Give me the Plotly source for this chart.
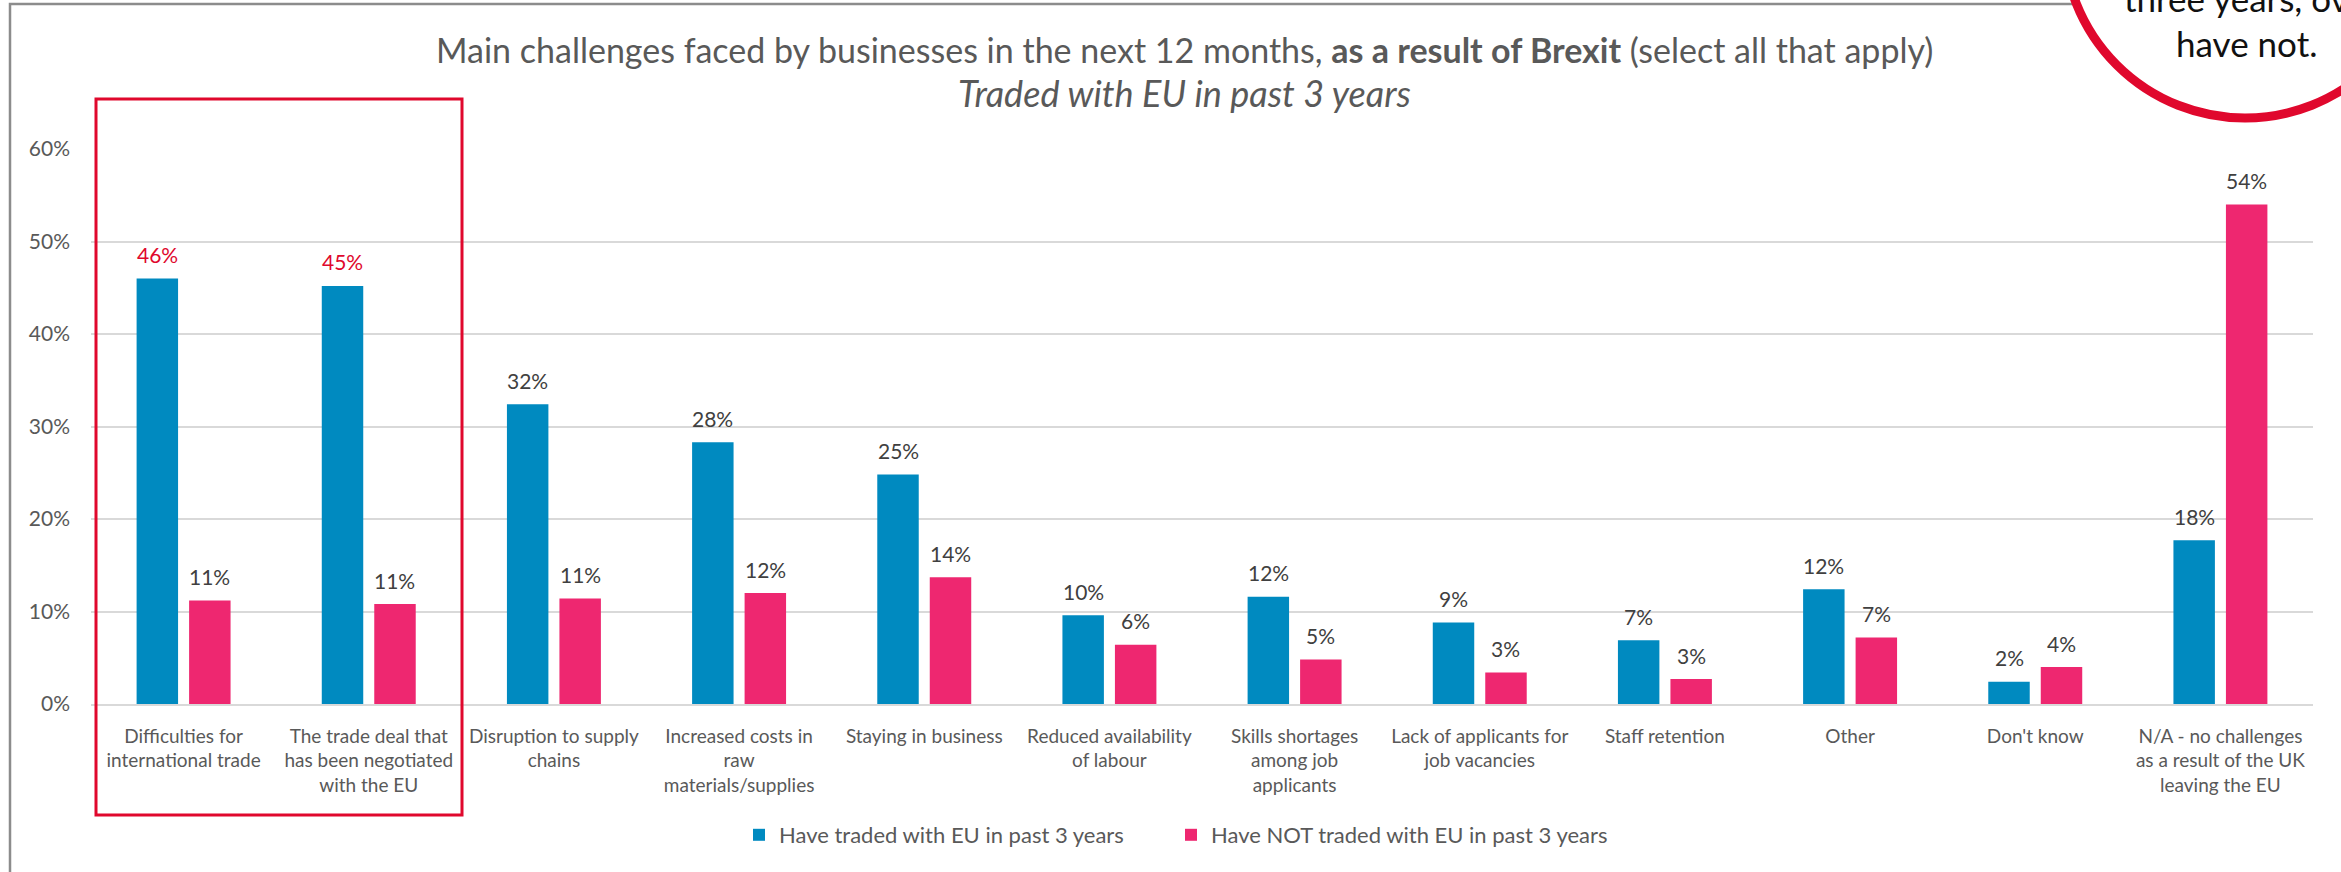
import plotly.graph_objects as go

# ---- data ---------------------------------------------------------------
categories = [
    "Difficulties for<br>international trade",
    "The trade deal that<br>has been negotiated<br>with the EU",
    "Disruption to supply<br>chains",
    "Increased costs in<br>raw<br>materials/supplies",
    "Staying in business",
    "Reduced availability<br>of labour",
    "Skills shortages<br>among job<br>applicants",
    "Lack of applicants for<br>job vacancies",
    "Staff retention",
    "Other",
    "Don't know",
    "N/A - no challenges<br>as a result of the UK<br>leaving the EU",
]
traded_eu = [46.0, 45.2, 32.4, 28.3, 24.8, 9.6, 11.6, 8.8, 6.9, 12.4, 2.4, 17.7]
not_traded_eu = [11.2, 10.8, 11.4, 12.0, 13.7, 6.4, 4.8, 3.4, 2.7, 7.2, 4.0, 54.0]
series_names = [
    "Have traded with EU in past 3 years",
    "Have NOT traded with EU in past 3 years",
]
y_ticks = [0, 10, 20, 30, 40, 50, 60]
highlighted = [0, 1]  # categories boxed and labelled in red

# ---- styling --------------------------------------------------------------
FONT = "Lato"
BLUE = "#008AC0"
PINK = "#EE2770"
RED = "#E0082D"
GREY_TEXT = "#595959"
LABEL_TEXT = "#404040"
GRID = "#D9D9D9"

W, H = 2341, 872
PLOT_L, PLOT_R, PLOT_T, PLOT_B = 91, 2313, 149, 704


def px_x(p):
    return (p - PLOT_L) / (PLOT_R - PLOT_L)


def px_y(p):
    return (PLOT_B - p) / (PLOT_B - PLOT_T)


fig = go.Figure()
fig.add_trace(go.Bar(name=series_names[0], x=categories, y=traded_eu, legend="legend",
                     marker=dict(color=BLUE, line_width=0), hoverinfo="skip"))
fig.add_trace(go.Bar(name=series_names[1], x=categories, y=not_traded_eu, legend="legend2",
                     marker=dict(color=PINK, line_width=0), hoverinfo="skip"))

# value labels above each bar
annotations = []
half_slot = (PLOT_R - PLOT_L) / len(categories) * (1 - 0.433) / 4
for i, cat in enumerate(categories):
    for values, shift, is_blue in ((traded_eu, -half_slot, True), (not_traded_eu, half_slot, False)):
        v = values[i]
        colour = RED if (is_blue and i in highlighted) else LABEL_TEXT
        annotations.append(dict(
            x=cat, y=v, xref="x", yref="y", text=f"{v:.0f}%", showarrow=False,
            xshift=shift, yshift=24, yanchor="middle",
            font=dict(family=FONT, size=21, color=colour)))

# title lines
annotations.append(dict(
    x=px_x(1184), y=px_y(49), xref="paper", yref="paper", showarrow=False,
    xanchor="center", yanchor="middle",
    text="Main challenges faced by businesses in the next 12 months, "
         "<b>as a result of Brexit</b> (select all that apply)",
    font=dict(family=FONT, size=34, color=GREY_TEXT)))
annotations.append(dict(
    x=px_x(1184), y=px_y(93), xref="paper", yref="paper", showarrow=False,
    xanchor="center", yanchor="middle",
    text="<i>Traded with EU in past 3 years</i>",
    font=dict(family=FONT, size=36, color=GREY_TEXT)))

# callout text inside the circle
annotations.append(dict(
    x=px_x(2122), y=px_y(-2), xref="paper", yref="paper", showarrow=False,
    xanchor="left", yanchor="middle", text="three years, over",
    font=dict(family=FONT, size=35, color="#111111")))
annotations.append(dict(
    x=px_x(2246), y=px_y(43), xref="paper", yref="paper", showarrow=False,
    xanchor="center", yanchor="middle", text="have not.",
    font=dict(family=FONT, size=35, color="#111111")))

shapes = [
    # chart frame
    dict(type="rect", xref="paper", yref="paper", layer="below",
         x0=px_x(10), x1=px_x(2420), y0=px_y(4), y1=px_y(950),
         line=dict(color="#8C8C8C", width=2.5), fillcolor="rgba(0,0,0,0)"),
    # highlight box around the first two categories
    dict(type="rect", xref="paper", yref="paper", layer="above",
         x0=px_x(96), x1=px_x(462), y0=px_y(99), y1=px_y(815),
         line=dict(color=RED, width=3), fillcolor="rgba(0,0,0,0)"),
    # callout circle
    dict(type="circle", xref="paper", yref="paper", layer="above",
         x0=px_x(2245 - 181.5), x1=px_x(2245 + 181.5),
         y0=px_y(-63.5 - 181.5), y1=px_y(-63.5 + 181.5),
         line=dict(color=RED, width=9), fillcolor="white"),
]

legend_style = dict(orientation="h", y=px_y(835), xanchor="left", yanchor="middle",
                    font=dict(family=FONT, size=22, color=GREY_TEXT),
                    itemclick=False, itemdoubleclick=False)

fig.update_layout(
    width=W, height=H,
    margin=dict(l=PLOT_L, r=W - PLOT_R, t=PLOT_T, b=H - PLOT_B),
    paper_bgcolor="white", plot_bgcolor="white",
    barmode="group", bargap=0.433, bargroupgap=0.21,
    font=dict(family=FONT, color=GREY_TEXT),
    showlegend=True,
    legend=dict(x=px_x(739), **legend_style),
    legend2=dict(x=px_x(1171), **legend_style),
    annotations=annotations,
    shapes=shapes,
)
fig.update_yaxes(range=[0, 60], tickvals=y_ticks, ticktext=[f"{t}%" for t in y_ticks],
                 showgrid=True, gridcolor=GRID, gridwidth=1.5, zeroline=False,
                 showline=False, ticks="", ticklabelstandoff=20,
                 tickfont=dict(family=FONT, size=21, color=GREY_TEXT), fixedrange=True)
fig.update_xaxes(showline=True, linecolor=GRID, linewidth=1.5, ticks="",
                 ticklabelstandoff=14,
                 tickfont=dict(family=FONT, size=19, color=GREY_TEXT), fixedrange=True)

fig.write_html("out.html")
